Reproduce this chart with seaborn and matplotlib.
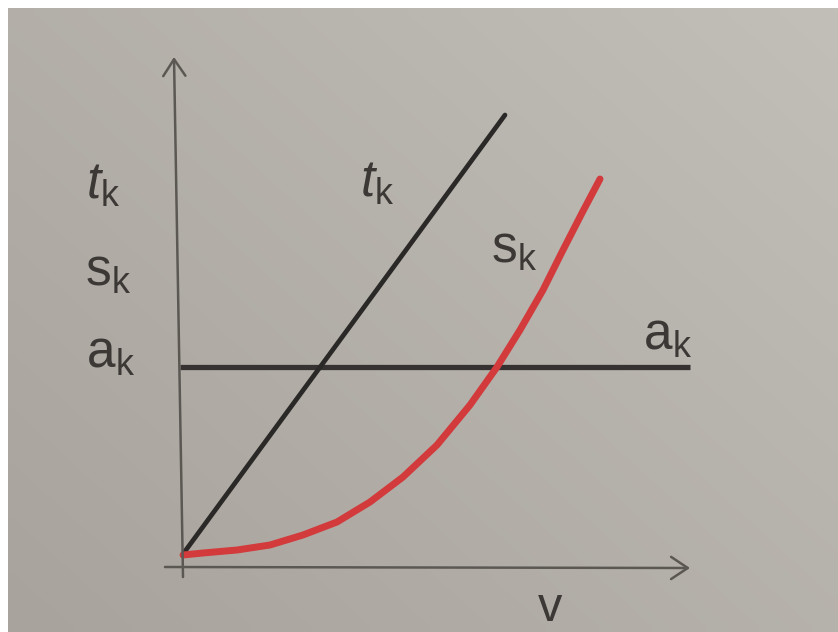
import numpy as np
import matplotlib
matplotlib.use("Agg")
import matplotlib.pyplot as plt
import seaborn as sns
import pandas as pd

# valores (1 unidade = 100 px, origem no cruzamento dos eixos)
v_t = [0.03, 3.25]
t_k = [0.13, 4.52]

v_s = [0.03, 0.23, 0.57, 0.90, 1.23, 1.57, 1.90, 2.23, 2.57, 2.90,
       3.17, 3.40, 3.63, 3.82, 4.02, 4.20]
s_k = [0.12, 0.14, 0.17, 0.22, 0.32, 0.45, 0.65, 0.90, 1.22, 1.62,
       2.00, 2.37, 2.77, 3.15, 3.54, 3.88]

v_a = [0.0, 5.1]
a_k = [2.0, 2.0]

rotulos_esq = [r"$\mathit{t}_\mathrm{k}$", r"$\mathrm{s}_\mathrm{k}$", r"$\mathrm{a}_\mathrm{k}$"]

sns.set_theme(style="white")
plt.rcParams["font.family"] = ["Liberation Sans", "DejaVu Sans"]
plt.rcParams["mathtext.fontset"] = "custom"
plt.rcParams["mathtext.rm"] = "Liberation Sans"
plt.rcParams["mathtext.it"] = "Liberation Sans:italic"

fig = plt.figure(figsize=(8.38, 6.32), dpi=100, facecolor="white")
pos = [8 / 838, 0, 830 / 838, 624 / 632]

# fundo tipo papel fotografado (gradiente suave)
fundo = fig.add_axes(pos)
gy, gx = np.mgrid[0:1:60j, 0:1:80j]
mix = (gx * 0.55 + (1 - gy) * 0.45)[..., None]
escuro = np.array([168, 163, 156]) / 255
claro = np.array([193, 191, 184]) / 255
fundo.imshow(escuro * (1 - mix) + claro * mix, aspect="auto", origin="upper",
             interpolation="bilinear")
fundo.axis("off")

ax = fig.add_axes(pos)
ax.patch.set_alpha(0)

cor_eixo = "#5b5753"
seta = dict(arrowstyle="->,head_length=1.2,head_width=0.8", lw=1.8,
            color=cor_eixo, mutation_scale=10, shrinkA=0, shrinkB=0)
ax.annotate("", xy=(-0.06, 5.1), xytext=(0.03, -0.1), arrowprops=seta)
ax.annotate("", xy=(5.1, -0.01), xytext=(-0.15, 0.0), arrowprops=seta)

df_t = pd.DataFrame({"v": v_t, "y": t_k})
df_s = pd.DataFrame({"v": v_s, "y": s_k})
df_a = pd.DataFrame({"v": v_a, "y": a_k})

sns.lineplot(data=df_a, x="v", y="y", ax=ax, color="#353231", lw=3.8,
             solid_capstyle="butt")
sns.lineplot(data=df_t, x="v", y="y", ax=ax, color="#2b2928", lw=3.4,
             solid_capstyle="round")
sns.lineplot(data=df_s, x="v", y="y", ax=ax, color="#d23a3c", lw=5,
             solid_capstyle="round", solid_joinstyle="round")
ax.set_xlim(-1.72, 6.58)
ax.set_ylim(-0.65, 5.59)
ax.axis("off")

cor_txt = "#3b3836"
fs = 37
# rótulos à esquerda do eixo vertical
for rot, (px, py) in zip(rotulos_esq, [(103, 185), (108, 272), (111, 354)]):
    ax.text((px - 180) / 100, (567 - py) / 100, rot, fontsize=fs, color=cor_txt,
            ha="center", va="center")

# rótulos junto às curvas
ax.text((377 - 180) / 100, (567 - 183) / 100, rotulos_esq[0], fontsize=fs,
        color=cor_txt, ha="center", va="center")
ax.text((514 - 180) / 100, (567 - 249) / 100, rotulos_esq[1], fontsize=fs,
        color=cor_txt, ha="center", va="center")
ax.text((668 - 180) / 100, (567 - 336) / 100, rotulos_esq[2], fontsize=fs,
        color=cor_txt, ha="center", va="center")
ax.text((550 - 180) / 100, (567 - 621) / 100, "v", fontsize=35, color=cor_txt,
        ha="center", va="baseline")

fig.savefig("out.png", dpi=100, facecolor="white")
